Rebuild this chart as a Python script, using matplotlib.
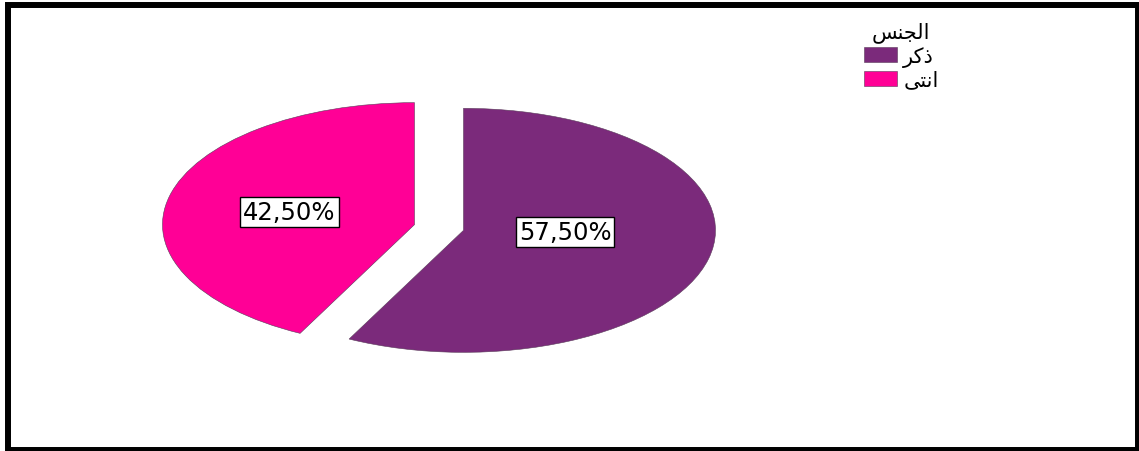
import matplotlib
matplotlib.use("Agg")
import matplotlib.pyplot as plt
from matplotlib.patches import Rectangle

# gender split (percent)
labels = ["\uFEAE\uFEDB\uFEAB", "\uFEF0\uFE98\uFEE7\uFE8D"]   # ذكر , انثى (shaped, visual order)
legend_title = "\uFEB2\uFEE8\uFEA0\uFEDF\uFE8D"                 # الجنس
values = [57.5, 42.5]
colors = ["#7B2A7B", "#FF0096"]

W, H = 1139, 452
fig = plt.figure(figsize=(W / 100, H / 100), dpi=100)

# stretched axes so the pie is drawn as a wide ellipse
ax = fig.add_axes([61 / W, 40.5 / H, 756 / W, 366 / H])
wedges, _ = ax.pie(values, colors=colors, startangle=90, counterclock=False,
                   explode=[0.1, 0.1], radius=1.0,
                   wedgeprops=dict(edgecolor="#5a3a5a", linewidth=0.4))
ax.set_aspect("auto")
ax.set_xlim(-1.5, 1.5)
ax.set_ylim(-1.5, 1.5)
ax.axis("off")

label_pos = [(0.5, -0.037), (-0.593, 0.127)]
for v, (x, y) in zip(values, label_pos):
    txt = f"{v:.2f}%".replace(".", ",")
    ax.text(x, y, txt, ha="center", va="center", fontsize=17.5,
            family="DejaVu Sans",
            bbox=dict(boxstyle="square,pad=0.12", fc="white", ec="black", lw=1.0))

leg = fig.legend(wedges, labels, title=legend_title, loc="upper left",
                 bbox_to_anchor=(849 / W, 1 - 8 / H), frameon=False,
                 fontsize=15, title_fontsize=15, handlelength=1.6, handleheight=0.75,
                 labelspacing=0.15, handletextpad=0.3, borderpad=0.2)
leg._legend_box.align = "center"

# black frame around the figure
fig.patches.append(Rectangle((8 / W, 1 / H), (1138 - 8) / W, (446 - 1) / H,
                             transform=fig.transFigure, fill=False,
                             edgecolor="black", linewidth=4.3))

fig.savefig("out.png", dpi=100)
